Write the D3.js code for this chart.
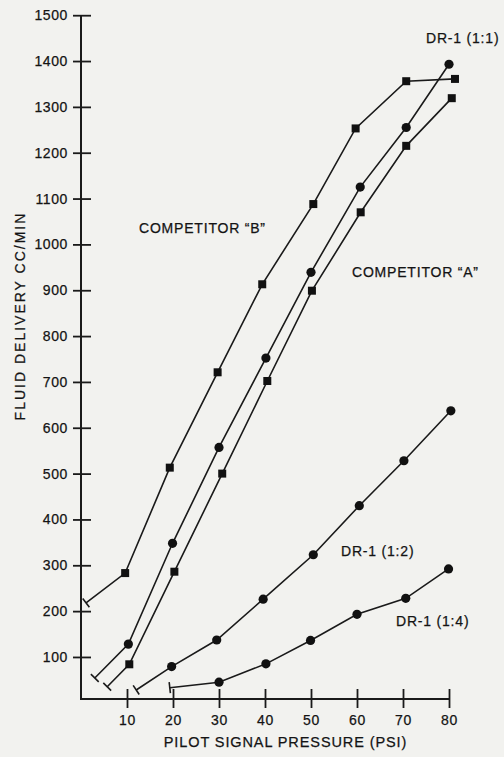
<!DOCTYPE html>
<html>
<head>
<meta charset="utf-8">
<script src="https://cdn.jsdelivr.net/npm/d3@7"></script>
<style>
  html, body { margin: 0; padding: 0; background: #f2f2ef; }
  svg { display: block; font-family: "Liberation Sans", Arial, Helvetica, sans-serif; }
  text { fill: #141414; stroke: #141414; stroke-width: 0.25px; }
</style>
</head>
<body>
<script>
// pilot signal pressure (psi) and fluid delivery (cc/min), first point is where the curve starts
var compBPsi  = [1.1, 9.6, 19.3, 29.7, 39.4, 50.5, 59.7, 70.7, 81.3];
var compBFlow = [218, 283, 513, 721, 913, 1088, 1253, 1356, 1361];

var compAPsi  = [5.7, 10.5, 20.3, 30.7, 40.5, 50.2, 60.8, 70.7, 80.6];
var compAFlow = [35, 84, 286, 500, 702, 899, 1070, 1215, 1319];

var dr11Psi  = [3, 10.3, 19.9, 30, 40.2, 50, 60.7, 70.7, 80];
var dr11Flow = [54, 128, 348, 557, 752, 939, 1125, 1255, 1393];

var dr12Psi  = [12, 19.7, 29.5, 39.6, 50.5, 60.5, 70.2, 80.4];
var dr12Flow = [28, 79, 137, 226, 323, 430, 528, 637];

var dr14Psi  = [19.3, 30, 40.2, 49.9, 60, 70.6, 79.9];
var dr14Flow = [33, 45, 85, 136, 193, 228, 292];

var xTicks = [10, 20, 30, 40, 50, 60, 70, 80];
var yTicks = [100, 200, 300, 400, 500, 600, 700, 800, 900, 1000, 1100, 1200, 1300, 1400, 1500];

var series = [
  {psi: compBPsi, flow: compBFlow, marker: "square"},
  {psi: compAPsi, flow: compAFlow, marker: "square"},
  {psi: dr11Psi, flow: dr11Flow, marker: "circle"},
  {psi: dr12Psi, flow: dr12Flow, marker: "circle"},
  {psi: dr14Psi, flow: dr14Flow, marker: "circle"}
];

var labels = [
  {text: "DR-1 (1:1)", x: 426, y: 43},
  {text: "COMPETITOR \u201CB\u201D", x: 139, y: 233},
  {text: "COMPETITOR \u201CA\u201D", x: 352, y: 277},
  {text: "DR-1 (1:2)", x: 341, y: 556},
  {text: "DR-1 (1:4)", x: 396, y: 626}
];

var svg = d3.select("body")
            .append("svg")
            .attr("width", 504)
            .attr("height", 757);

var x = d3.scaleLinear().domain([0, 80]).range([81, 449]);
var y = d3.scaleLinear().domain([0, 1500]).range([702.8, 15.2]);
var axisY = 699;
var ink = "#1a1a1a";

// x axis
var gx = svg.append("g")
    .attr("transform", "translate(0," + axisY + ")")
    .call(d3.axisBottom(x).tickValues(xTicks).tickSize(9).tickPadding(7).tickSizeOuter(0));
gx.select(".domain").remove();
gx.selectAll(".tick line").attr("y1", -10).attr("stroke", ink).attr("stroke-width", 1.8);
gx.selectAll(".tick text")
    .attr("font-size", 14).attr("letter-spacing", 0.6)
    .style("font-family", "inherit");

// y axis
var gy = svg.append("g")
    .attr("transform", "translate(" + x(0) + ",0)")
    .call(d3.axisLeft(y).tickValues(yTicks).tickFormat(d3.format("d"))
          .tickSize(8).tickPadding(5).tickSizeOuter(0));
gy.select(".domain").remove();
gy.selectAll(".tick line").attr("x1", 10).attr("stroke", ink).attr("stroke-width", 1.8);
gy.selectAll(".tick text")
    .attr("font-size", 14).attr("letter-spacing", 0.6)
    .style("font-family", "inherit");

svg.append("line")
    .attr("x1", x(0)).attr("y1", y(1500))
    .attr("x2", x(0)).attr("y2", axisY + 1)
    .attr("stroke", ink).attr("stroke-width", 2);

svg.append("line")
    .attr("x1", x(0) - 1).attr("y1", axisY)
    .attr("x2", x(80)).attr("y2", axisY)
    .attr("stroke", ink).attr("stroke-width", 2);

// curves
var line = d3.line()
    .x(function(d) { return x(d[0]); })
    .y(function(d) { return y(d[1]); });

series.forEach(function(s) {
  var pts = s.psi.map(function(p, i) { return [p, s.flow[i]]; });

  svg.append("path")
      .attr("d", line(pts))
      .attr("fill", "none")
      .attr("stroke", ink)
      .attr("stroke-width", 1.6);

  // short cross bar where the curve starts
  var x0 = x(pts[0][0]), y0 = y(pts[0][1]);
  var dx = x(pts[1][0]) - x0, dy = y(pts[1][1]) - y0;
  var len = Math.sqrt(dx * dx + dy * dy);
  var px = -dy / len * 5.5, py = dx / len * 5.5;
  svg.append("line")
      .attr("x1", x0 - px).attr("y1", y0 - py)
      .attr("x2", x0 + px).attr("y2", y0 + py)
      .attr("stroke", ink).attr("stroke-width", 1.6);

  var marks = pts.slice(1);
  if (s.marker == "circle") {
    svg.selectAll(null).data(marks).enter()
        .append("circle")
        .attr("cx", function(d) { return x(d[0]); })
        .attr("cy", function(d) { return y(d[1]); })
        .attr("r", 4.6)
        .attr("fill", "#111");
  } else {
    svg.selectAll(null).data(marks).enter()
        .append("rect")
        .attr("x", function(d) { return x(d[0]) - 4; })
        .attr("y", function(d) { return y(d[1]) - 4; })
        .attr("width", 8)
        .attr("height", 8)
        .attr("fill", "#111");
  }
});

// curve labels
svg.selectAll(null).data(labels).enter()
    .append("text")
    .attr("x", function(d) { return d.x; })
    .attr("y", function(d) { return d.y; })
    .attr("font-size", 14)
    .attr("letter-spacing", 0.8)
    .text(function(d) { return d.text; });

// axis titles
svg.append("text")
    .attr("x", 285.5)
    .attr("y", 747)
    .attr("text-anchor", "middle")
    .attr("font-size", 14.5)
    .attr("letter-spacing", 0.9)
    .text("PILOT SIGNAL PRESSURE (PSI)");

svg.append("text")
    .attr("transform", "translate(25,316) rotate(-90)")
    .attr("text-anchor", "middle")
    .attr("font-size", 14)
    .attr("letter-spacing", 2)
    .text("FLUID DELIVERY CC/MIN");
</script>
</body>
</html>
